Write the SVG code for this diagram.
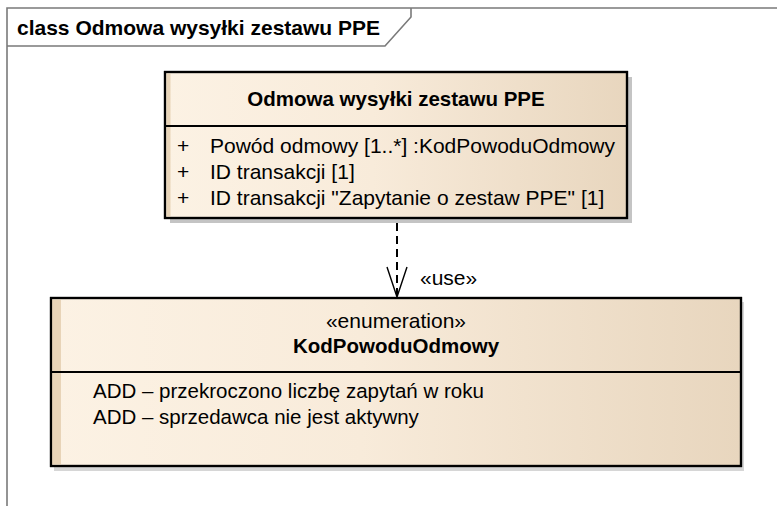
<svg xmlns="http://www.w3.org/2000/svg" width="777" height="506" viewBox="0 0 777 506">
<defs>
<linearGradient id="fill" x1="0" y1="0" x2="1" y2="0">
<stop offset="0" stop-color="#FCF2E4"/>
<stop offset="0.45" stop-color="#F8EBDA"/>
<stop offset="1" stop-color="#E8D6BE"/>
</linearGradient>
<style>
.frame{fill:none;stroke:#7a7a7a;stroke-width:1.6}
.box{fill:url(#fill);stroke:#000;stroke-width:2.2}
.shadow{fill:#c4c4c4}
.strip{fill:#E8D4B8}
.div{stroke:#000;stroke-width:2}
text{font-family:"Liberation Sans",Arial,sans-serif;fill:#000}
.b{font-weight:bold}
.t{font-size:20.5px}
.a{font-size:21px}
.l{font-size:20.5px}
</style>
</defs>
<rect width="777" height="506" fill="#fff"/>
<g id="frame">
<path class="frame" d="M777,8 H7 V506"/>
<path class="frame" d="M7,46 H385 L411,17 V8"/>
<text class="b a" x="17" y="35">class Odmowa wysyłki zestawu PPE</text>
</g>
<g id="connectors">
<path d="M397,223 V296" fill="none" stroke="#000" stroke-width="2" stroke-dasharray="8,5"/>
<path d="M387,267 L397,297 L407,267" fill="none" stroke="#000" stroke-width="1.4"/>
<text class="a" x="420" y="285">«use»</text>
</g>
<g id="node-odmowa">
<rect class="shadow" x="170" y="77" width="462" height="146"/>
<rect class="box" x="165" y="72" width="462" height="146"/>
<rect class="strip" x="166.5" y="73.5" width="4" height="143"/>
<rect x="165" y="72" width="462" height="146" fill="none" stroke="#000" stroke-width="2.2"/>
<line class="div" x1="165" y1="126" x2="627" y2="126"/>
<text class="b t" x="396" y="106" text-anchor="middle">Odmowa wysyłki zestawu PPE</text>
<text class="a" x="177" y="153">+</text>
<text class="a" x="210" y="153">Powód odmowy [1..*]  :KodPowoduOdmowy</text>
<text class="a" x="177" y="179">+</text>
<text class="a" x="210" y="179">ID transakcji [1]</text>
<text class="a" x="177" y="205">+</text>
<text class="a" x="210" y="205">ID transakcji "Zapytanie o zestaw PPE" [1]</text>
</g>
<g id="node-kod">
<rect x="54" y="302" width="690" height="169" fill="#d6d6d6"/>
<rect class="box" x="51" y="298" width="690" height="168"/>
<rect class="strip" x="52" y="299.5" width="9" height="165"/>
<rect x="51" y="298" width="690" height="168" fill="none" stroke="#000" stroke-width="2.2"/>
<line class="div" x1="51" y1="372" x2="741" y2="372"/>
<text class="a" x="396" y="328" text-anchor="middle">«enumeration»</text>
<text class="b t" x="396" y="353" text-anchor="middle">KodPowoduOdmowy</text>
<text class="l" x="93" y="398">ADD – przekroczono liczbę zapytań w roku</text>
<text class="l" x="93" y="424">ADD – sprzedawca nie jest aktywny</text>
</g>
</svg>
